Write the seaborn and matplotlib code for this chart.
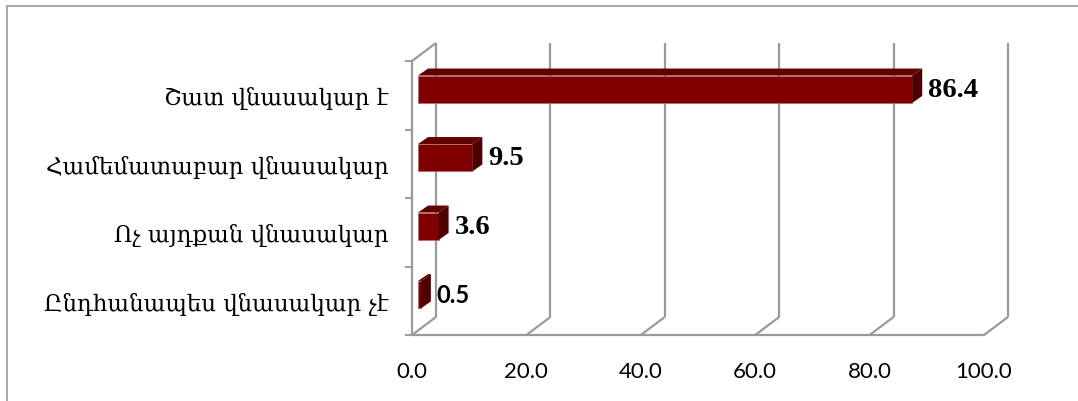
import numpy as np
import pandas as pd
import matplotlib
matplotlib.use("Agg")
import matplotlib.pyplot as plt
from matplotlib.lines import Line2D
from matplotlib.patches import Polygon
from matplotlib import transforms
import seaborn as sns

# ---- data ----
categories = [
    "Շատ վնասակար է",
    "Համեմատաբար վնասակար",
    "Ոչ այդքան վնասակար",
    "Ընդհանապես վնասակար չէ",
]
values = [86.4, 9.5, 3.6, 0.5]
x_ticks = [0, 20, 40, 60, 80, 100]
x_tick_labels = ["0.0", "20.0", "40.0", "60.0", "80.0", "100.0"]

# ---- style ----
FRONT = "#800000"
TOP = "#620000"
SIDE = "#4c0000"
EDGE = "#b86a6a"
GRID = "#9a9a9a"

sns.set_theme(style="white")
plt.rcParams["font.family"] = ["DejaVu Serif"]

W, H = 1078, 402
fig = plt.figure(figsize=(W / 100, H / 100), dpi=100)
fig.patch.set_facecolor("white")

# front plane of the plot box
ax = fig.add_axes([412 / W, 1 - 336 / H, 572 / W, 274 / H])
df = pd.DataFrame({"cat": categories, "val": values})
sns.barplot(data=df, x="val", y="cat", orient="h", color=FRONT, saturation=1,
            width=0.4, ax=ax, edgecolor=EDGE, linewidth=0.6, zorder=3)
ax.set_xlim(0, 100)
ax.set_ylim(len(categories) - 0.5, -0.5)
ax.set_xlabel("")
ax.set_ylabel("")
ax.set_facecolor("none")
ax.grid(False)

BOX_D = (24, 18)     # depth of the plot box, in pixels (right, up)
BAR_SHIFT = (6, 6)   # where bars sit inside the box depth
BAR_D = (10, 7)      # bar depth


def disp(x, y, dx=0.0, dy=0.0):
    p = ax.transData.transform((x, y))
    return p + np.array([dx, dy])


def to_data(p):
    return ax.transData.inverted().transform(p)


def seg(p0, p1, **kw):
    a, b = to_data(p0), to_data(p1)
    ax.add_line(Line2D([a[0], b[0]], [a[1], b[1]], color=GRID, lw=1.6,
                       clip_on=False, solid_capstyle="butt", **kw))


y_top, y_bot = -0.5, len(categories) - 0.5

# back wall gridlines and floor diagonals
for v in x_ticks:
    seg(disp(v, y_bot, *BOX_D), disp(v, y_top, *BOX_D), zorder=1)
    seg(disp(v, y_bot), disp(v, y_bot, *BOX_D), zorder=1)
# side wall top edge
seg(disp(0, y_top), disp(0, y_top, *BOX_D), zorder=1)

# shift front faces into the box and add top / end faces
for patch, v in zip(ax.patches, values):
    patch.set_transform(ax.transData + transforms.Affine2D().translate(*BAR_SHIFT))
    x0 = patch.get_x()
    yt = patch.get_y()
    h = patch.get_height()
    yb = yt + h
    sx, sy = BAR_SHIFT
    dx, dy = BAR_D
    top = [disp(x0, yt, sx, sy), disp(v, yt, sx, sy),
           disp(v, yt, sx + dx, sy + dy), disp(x0, yt, sx + dx, sy + dy)]
    side = [disp(v, yt, sx, sy), disp(v, yb, sx, sy),
            disp(v, yb, sx + dx, sy + dy), disp(v, yt, sx + dx, sy + dy)]
    ax.add_patch(Polygon([to_data(p) for p in top], closed=True, facecolor=TOP,
                         edgecolor="none", zorder=2.9, clip_on=False))
    ax.add_patch(Polygon([to_data(p) for p in side], closed=True, facecolor=SIDE,
                         edgecolor="none", zorder=3.1, clip_on=False))

# value labels
for i, v in enumerate(values):
    off = transforms.offset_copy(ax.transData, fig=fig, x=BAR_SHIFT[0] + BAR_D[0] + 6,
                                 y=BAR_SHIFT[1], units="dots")
    if v < 1:
        ax.text(v, i, f"{v:.1f}", transform=off, ha="left", va="center",
                family="Lato", fontweight="bold", fontsize=17, color="black",
                zorder=5, clip_on=False)
    else:
        ax.text(v, i, f"{v:.1f}", transform=off, ha="left", va="center",
                family="Liberation Serif", fontweight="bold", fontsize=20.5,
                color="black", zorder=5, clip_on=False)

# axes lines and ticks
for s in ["top", "right"]:
    ax.spines[s].set_visible(False)
for s in ["left", "bottom"]:
    ax.spines[s].set_color(GRID)
    ax.spines[s].set_linewidth(1.6)

ax.set_xticks(x_ticks)
ax.set_xticklabels(x_tick_labels, family="Lato", fontsize=16, color="black")
ax.tick_params(axis="x", direction="out", length=5, width=1.4, color=GRID, pad=14)

ax.set_yticks(range(len(categories)))
ax.set_yticklabels(categories, fontsize=16.5, color="black")
ax.set_yticks(np.arange(-0.5, len(categories), 1.0), minor=True)
ax.tick_params(axis="y", which="major", length=0, pad=17)
ax.tick_params(axis="y", which="minor", direction="out", length=5, width=1.4,
               color=GRID, left=True)

# outer chart frame
fig.add_artist(Line2D([7 / W, 7 / W], [1 - 7 / H, -0.05], transform=fig.transFigure,
                      color="#a8a8a8", lw=1.4))
fig.add_artist(Line2D([7 / W, 1.05], [1 - 7 / H, 1 - 7 / H], transform=fig.transFigure,
                      color="#a8a8a8", lw=1.4))

fig.savefig("out.png", dpi=100, facecolor="white")
